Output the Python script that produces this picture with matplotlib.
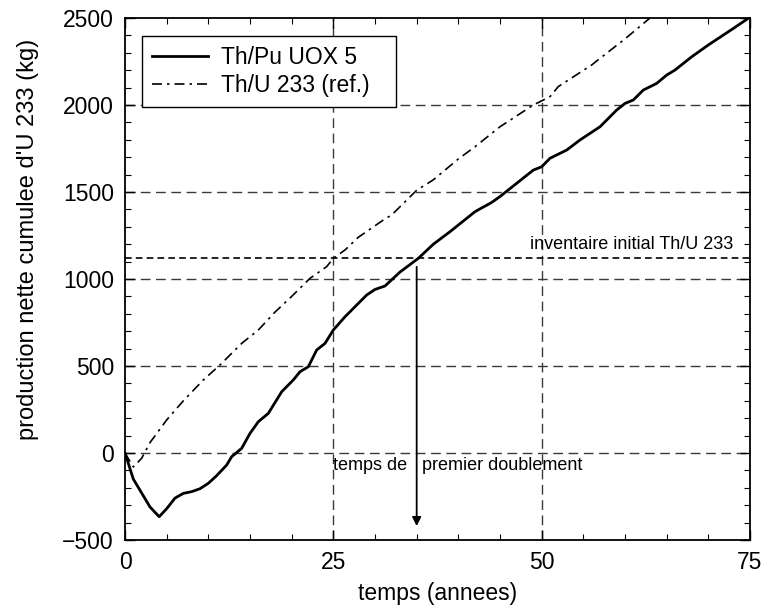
import matplotlib
matplotlib.use("Agg")
import matplotlib.pyplot as plt
from matplotlib.ticker import MultipleLocator

plt.rcParams['font.family'] = ['Liberation Sans', 'DejaVu Sans']

# Th/Pu UOX 5
x_pu = [0, 1, 2, 3, 4.1, 5, 6, 7, 8, 9, 10, 11, 12.2, 12.8, 14, 15, 16, 17.2, 18.8, 20.2,
        21, 22, 23, 24, 25, 26.4, 28, 29, 30, 31.2, 33, 35.2, 37, 39, 42, 44, 45, 47, 49,
        50, 51, 53, 54.6, 57, 59, 60, 61, 62.2, 63.8, 65, 66, 68, 70, 73, 75]
y_pu = [0, -150, -230, -310, -366, -320, -259, -232, -222, -205, -174, -130, -69, -21, 27, 113, 180, 228, 352, 420,
        467, 496, 592, 630, 707, 783, 860, 908, 940, 960, 1040, 1119, 1200, 1272, 1387, 1440, 1474, 1550, 1626,
        1645, 1694, 1741, 1799, 1875, 1971, 2009, 2029, 2086, 2124, 2172, 2201, 2277, 2345, 2440, 2505]

# Th/U 233 (ref.)
x_u = [0, 1, 2, 3, 5, 7, 9.4, 11.4, 14, 16, 18, 20, 22.2, 24.2, 25, 26.4, 28, 31, 32, 35, 37,
       40, 42, 45, 49, 51, 52, 56, 57, 60, 63]
y_u = [0, -80, -30, 60, 190, 300, 420, 506, 630, 707, 810, 900, 1004, 1071, 1119, 1167, 1240, 1339, 1368, 1510, 1570,
       1690, 1760, 1875, 2000, 2048, 2106, 2230, 2268, 2380, 2500]

inventory = 1120
doubling_time = 35

fig = plt.figure(figsize=(7.65, 6.08), dpi=100)
ax = fig.add_axes([0.1634, 0.1118, 0.817, 0.8586])

grid_col = '#3a3a3a'
for gx in [25, 50]:
    ax.axvline(gx, color=grid_col, lw=1.0, dashes=(7, 4), zorder=1)
for gy in [0, 500, 1000, 1500, 2000]:
    ax.axhline(gy, color=grid_col, lw=1.0, dashes=(7, 4), zorder=1)
ax.axhline(inventory, color='black', lw=1.2, dashes=(4, 2.5), zorder=1)

ax.plot(x_pu, y_pu, color='black', lw=2.0, label='Th/Pu UOX 5', zorder=3)
ax.plot(x_u, y_u, color='black', lw=1.2, dashes=(6, 3, 1.5, 3), label='Th/U 233 (ref.)', zorder=3)

ax.annotate('', xy=(doubling_time, -420), xytext=(doubling_time, 1070),
            arrowprops=dict(arrowstyle='-|>', color='black', lw=1.3, mutation_scale=13,
                            shrinkA=0, shrinkB=0))
ax.text(25.0, -98, 'temps de', fontsize=13, va='baseline', ha='left')
ax.text(35.6, -98, 'premier doublement', fontsize=13, va='baseline', ha='left')
ax.text(73.0, 1172, 'inventaire initial Th/U 233', fontsize=13, va='baseline', ha='right')

ax.set_xlim(0, 75)
ax.set_ylim(-500, 2500)
ax.xaxis.set_major_locator(MultipleLocator(25))
ax.xaxis.set_minor_locator(MultipleLocator(5))
ax.yaxis.set_major_locator(MultipleLocator(500))
ax.yaxis.set_minor_locator(MultipleLocator(100))
ax.tick_params(which='both', direction='in', top=True, right=True, labelsize=16.5, pad=8)
ax.tick_params(which='major', length=7, width=1)
ax.tick_params(which='minor', length=4, width=0.8)
ax.set_yticklabels(['\u2212500' if t < 0 else str(int(t)) for t in ax.get_yticks()])
for s in ax.spines.values():
    s.set_linewidth(1.3)

ax.set_xlabel('temps (annees)', fontsize=16.5, labelpad=6)
ax.set_ylabel("production nette cumulee d'U 233 (kg)", fontsize=17)
ax.yaxis.set_label_coords(-0.138, 0.575)

leg = ax.legend(loc='upper left', fontsize=16.5, frameon=True, fancybox=False,
                edgecolor='black', framealpha=1, handlelength=2.44, handletextpad=0.57,
                borderpad=0.45, labelspacing=0.2, borderaxespad=0, mode='expand',
                bbox_to_anchor=(0.0272, 0.0, 0.4064, 0.9655))
leg.get_frame().set_linewidth(1.0)

fig.savefig('out.png', dpi=100)
